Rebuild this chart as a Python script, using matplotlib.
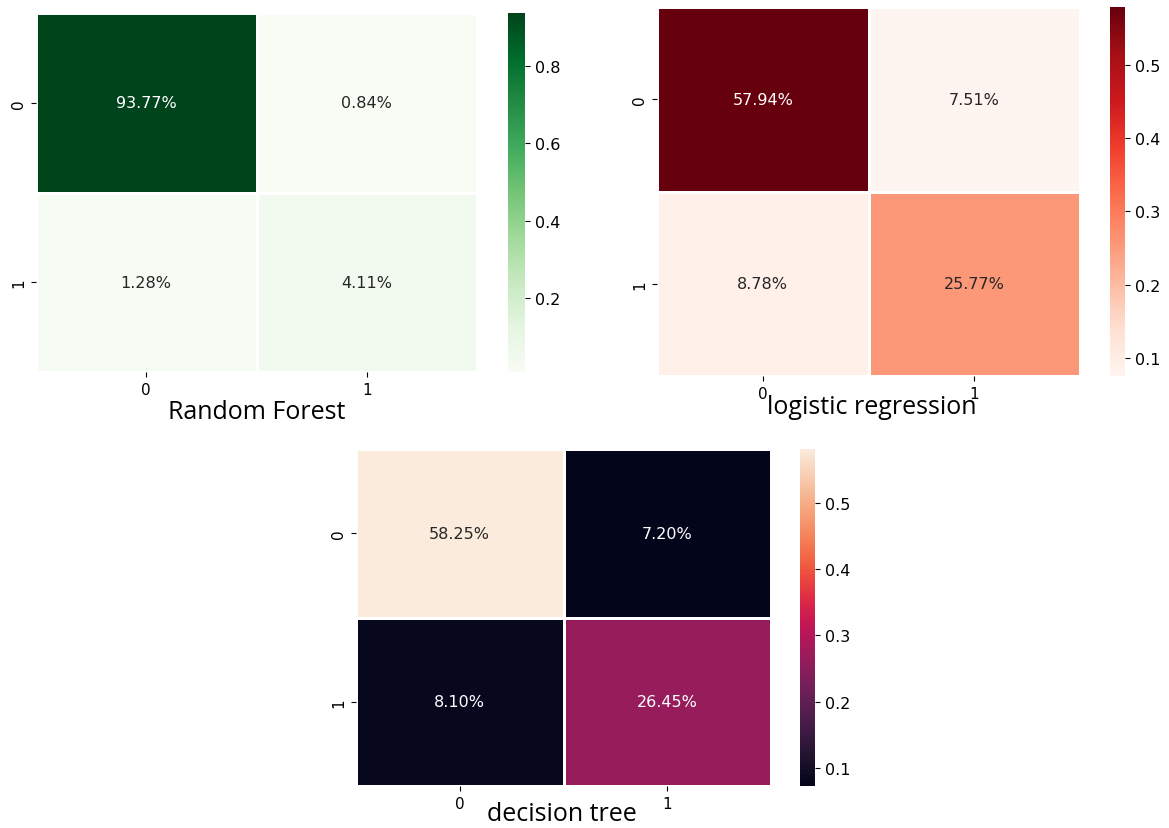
import matplotlib
matplotlib.use('Agg')
import matplotlib.pyplot as plt
import seaborn as sns
import numpy as np

labels = ['0', '1']
rf_values = [[0.9377, 0.0084],
             [0.0128, 0.0411]]
lr_values = [[0.5794, 0.0751],
             [0.0878, 0.2577]]
dt_values = [[0.5825, 0.0720],
             [0.0810, 0.2645]]
titles = ['Random Forest', 'logistic regression', 'decision tree']
cmaps = ['Greens', 'Reds', 'rocket']

fig = plt.figure(figsize=(11.69, 8.29), dpi=100)

W, H = 1169.0, 829.0


def box(x0, y0, x1, y1):
    # pixel box (top-left origin) -> figure fraction rect
    return [x0 / W, 1 - y1 / H, (x1 - x0) / W, (y1 - y0) / H]


panels = [
    (rf_values, box(36, 14, 477, 373), box(508, 14, 525, 373), (257, 413)),
    (lr_values, box(657, 8, 1080, 377), box(1110, 8, 1125, 377), (872, 408)),
    (dt_values, box(356, 450, 771, 787), box(800, 450, 815, 787), (562, 815)),
]

for (vals, hm_rect, cb_rect, tpos), title, cmap in zip(panels, titles, cmaps):
    ax = fig.add_axes(hm_rect)
    cax = fig.add_axes(cb_rect)
    sns.heatmap(np.array(vals), annot=True, fmt='.2%', cmap=cmap,
                linewidths=2, linecolor='white', ax=ax, cbar_ax=cax,
                xticklabels=labels, yticklabels=labels,
                annot_kws={'fontsize': 11.5})
    ax.tick_params(labelsize=11)
    cax.tick_params(labelsize=11.5)
    fig.text(tpos[0] / W, 1 - tpos[1] / H, title, ha='center', va='center',
             fontsize=18, family='Open Sans')

fig.savefig('out.png', dpi=100)
